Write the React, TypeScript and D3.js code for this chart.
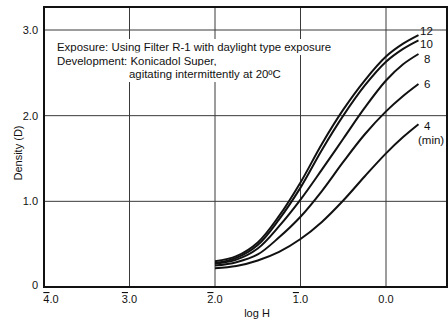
import * as d3 from "d3";
import React, { useEffect, useRef } from "react";

// log H sample points (same for every curve)
const logH = [-2.0, -1.75, -1.5, -1.25, -1.0, -0.75, -0.5, -0.25, 0.0, 0.2, 0.38];

// density per development time (min)
const dev12 = [0.3, 0.36, 0.52, 0.83, 1.22, 1.67, 2.07, 2.41, 2.69, 2.84, 2.94];
const dev10 = [0.28, 0.34, 0.49, 0.79, 1.16, 1.6, 2.0, 2.35, 2.63, 2.78, 2.88];
const dev8 = [0.27, 0.32, 0.45, 0.71, 1.02, 1.37, 1.73, 2.09, 2.41, 2.6, 2.72];
const dev6 = [0.25, 0.29, 0.38, 0.58, 0.82, 1.12, 1.46, 1.78, 2.05, 2.23, 2.37];
const dev4 = [0.22, 0.245, 0.31, 0.41, 0.56, 0.76, 1.01, 1.29, 1.56, 1.75, 1.9];

const seriesNames = ["12", "10", "8", "6", "4"];
const seriesValues = [dev12, dev10, dev8, dev6, dev4];

const xTicks = [-4, -3, -2, -1, 0];
const xTickLabels = [
  ["4", ".0"],
  ["3", ".0"],
  ["2", ".0"],
  ["1", ".0"],
  ["", "0.0"],
];
const yTicks = [0, 1, 2, 3];
const yTickLabels = ["0", "1.0", "2.0", "3.0"];

const notes = [
  "Exposure: Using Filter R-1 with daylight type exposure",
  "Development: Konicadol Super,",
  "agitating intermittently at 20ºC",
];

const W = 448;
const H = 322;
const FONT = "'Liberation Sans', Arial, Helvetica, sans-serif";

const App = () => {
  const svgRef = useRef<SVGSVGElement>(null);

  useEffect(() => {
    const svg = d3.select(svgRef.current);
    svg.selectAll("*").remove();

    const left = 44;
    const right = 447;
    const top = 7;
    const bottom = 287;

    const x = d3.scaleLinear().domain([-4, 0]).range([left, 386]);
    const y = d3.scaleLinear().domain([0, 3]).range([bottom, 30]);

    svg.append("rect").attr("width", W).attr("height", H).attr("fill", "#fff");

    // grid
    const grid = svg.append("g").attr("stroke", "#3a3a3a").attr("stroke-width", 1);
    xTicks.slice(1).forEach((t) => {
      grid
        .append("line")
        .attr("x1", x(t))
        .attr("x2", x(t))
        .attr("y1", top)
        .attr("y2", bottom);
    });
    yTicks.slice(1).forEach((t) => {
      grid
        .append("line")
        .attr("x1", left)
        .attr("x2", right)
        .attr("y1", y(t))
        .attr("y2", y(t));
    });

    // annotation text with white backing
    const noteG = svg.append("g").attr("font-family", FONT).attr("font-size", 11.4).attr("fill", "#111");
    const noteX = [57, 57, 129];
    const noteY = [51, 64.5, 78];
    notes.forEach((n, i) => {
      const bg = noteG.append("rect").attr("fill", "#fff");
      const t = noteG.append("text").attr("x", noteX[i]).attr("y", noteY[i]).text(n);
      const bb = (t.node() as SVGTextElement).getBBox();
      bg.attr("x", bb.x - 4)
        .attr("y", bb.y - 2)
        .attr("width", bb.width + 8)
        .attr("height", bb.height + 4);
    });

    // frame
    svg
      .append("rect")
      .attr("x", left)
      .attr("y", top)
      .attr("width", right - left)
      .attr("height", bottom - top)
      .attr("fill", "none")
      .attr("stroke", "#111")
      .attr("stroke-width", 2);

    // curves
    const line = d3
      .line<number>()
      .x((_, i) => x(logH[i]))
      .y((d) => y(d))
      .curve(d3.curveCatmullRom.alpha(0.5));

    svg
      .append("g")
      .selectAll("path")
      .data(seriesValues)
      .enter()
      .append("path")
      .attr("d", (d) => line(d))
      .attr("fill", "none")
      .attr("stroke", "#111")
      .attr("stroke-width", 2);

    // series labels
    const labelPos: Record<string, [number, number]> = {
      "12": [420, 35],
      "10": [420, 48],
      "8": [424, 63],
      "6": [424, 88],
      "4": [424, 130],
    };
    const lab = svg.append("g").attr("font-family", FONT).attr("font-size", 11.5).attr("fill", "#111");
    seriesNames.forEach((s) => {
      lab.append("text").attr("x", labelPos[s][0]).attr("y", labelPos[s][1]).text(s);
    });
    lab.append("text").attr("x", 418).attr("y", 144).text("(min)");

    // y tick labels
    const axisText = svg.append("g").attr("font-family", FONT).attr("font-size", 11).attr("fill", "#111");
    yTicks.forEach((t, i) => {
      axisText
        .append("text")
        .attr("x", 38)
        .attr("y", y(t) + (t === 0 ? 2 : 4))
        .attr("text-anchor", "end")
        .text(yTickLabels[i]);
    });

    // x tick labels with overlined characteristic
    xTicks.forEach((t, i) => {
      const txt = axisText
        .append("text")
        .attr("x", i === 0 ? left + 7 : x(t))
        .attr("y", 303)
        .attr("text-anchor", "middle");
      if (xTickLabels[i][0]) {
        txt
          .append("tspan")
          .style("text-decoration", "overline")
          .text(xTickLabels[i][0]);
      }
      txt.append("tspan").text(xTickLabels[i][1]);
    });

    axisText
      .append("text")
      .attr("x", 257)
      .attr("y", 317)
      .attr("text-anchor", "middle")
      .text("log H");

    axisText
      .append("text")
      .attr("transform", "translate(22,153) rotate(-90)")
      .attr("text-anchor", "middle")
      .text("Density (D)");
  }, []);

  return (
    <svg
      ref={svgRef}
      width={W}
      height={H}
      style={{ position: "absolute", left: 0, top: 0 }}
    ></svg>
  );
};

export default App;
